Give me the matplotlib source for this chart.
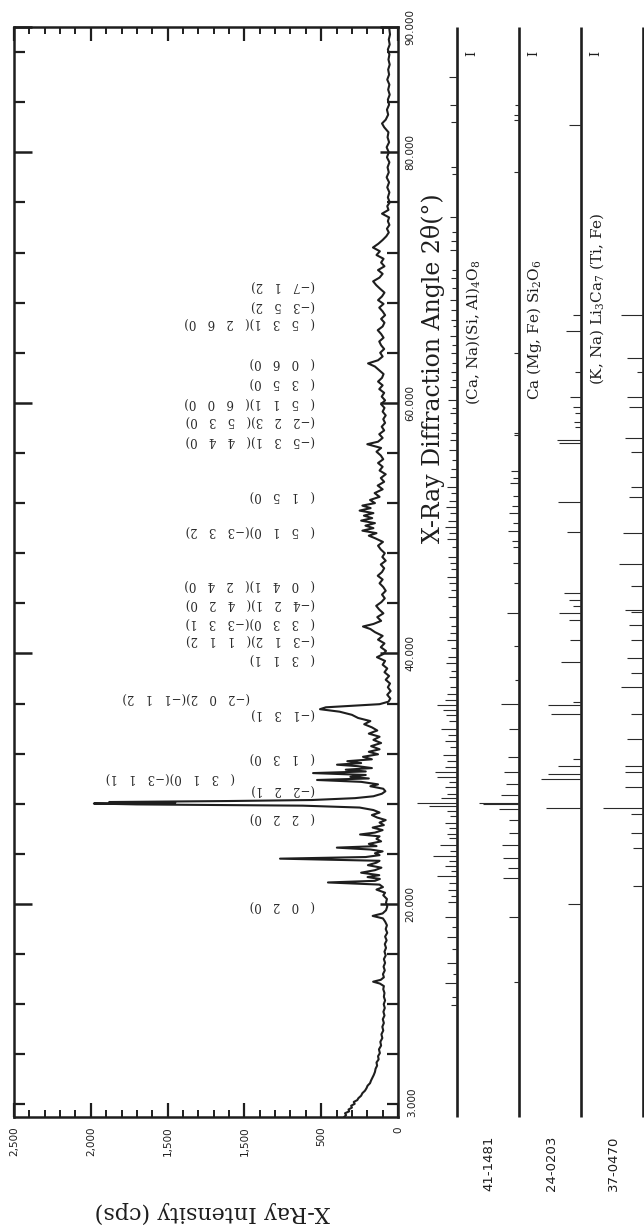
import matplotlib

matplotlib.use("Agg")

import matplotlib.pyplot as plt
from matplotlib.ticker import FixedLocator, MultipleLocator

W, H = 644, 1231

# measured scan, 2theta (deg) and counts (cps)
angle = [
    3.0, 3.15, 3.3, 3.45, 3.6, 3.75, 3.9, 4.05, 4.2, 4.35, 4.5, 4.7, 4.9, 5.1, 5.3, 5.5, 5.7, 5.9,
    6.1, 6.35, 6.6, 6.85, 7.1, 7.35, 7.6, 7.85, 8.1, 8.4, 8.7, 9.0, 9.3, 9.6, 9.9, 10.2, 10.5,
    10.8, 11.1, 11.4, 11.7, 12.0, 12.3, 12.6, 12.9, 13.2, 13.45, 13.65, 13.8, 13.95, 14.15, 14.4,
    14.7, 15.0, 15.3, 15.6, 15.9, 16.2, 16.5, 16.8, 17.1, 17.4, 17.7, 18.0, 18.3, 18.6, 18.85,
    19.05, 19.25, 19.5, 19.8, 20.1, 20.4, 20.7, 20.9, 21.15, 21.35, 21.55, 21.72, 21.85, 22.0,
    22.15, 22.3, 22.5, 22.7, 22.9, 23.1, 23.3, 23.45, 23.62, 23.75, 23.9, 24.05, 24.2, 24.35,
    24.5, 24.62, 24.8, 25.0, 25.2, 25.4, 25.55, 25.7, 25.9, 26.1, 26.3, 26.5, 26.7, 26.9, 27.1,
    27.3, 27.5, 27.7, 27.85, 27.95, 28.02, 28.08, 28.14, 28.22, 28.3, 28.45, 28.6, 28.8, 29.0,
    29.2, 29.4, 29.55, 29.75, 29.9, 30.02, 30.15, 30.3, 30.45, 30.58, 30.72, 30.85, 31.0, 31.12,
    31.25, 31.4, 31.55, 31.75, 31.95, 32.15, 32.35, 32.6, 32.85, 33.1, 33.35, 33.6, 33.85, 34.1,
    34.35, 34.6, 34.85, 35.1, 35.35, 35.55, 35.7, 35.82, 35.95, 36.15, 36.4, 36.7, 37.0, 37.3,
    37.6, 37.9, 38.2, 38.5, 38.8, 39.1, 39.4, 39.7, 39.95, 40.2, 40.5, 40.8, 41.1, 41.4, 41.7,
    41.95, 42.15, 42.35, 42.6, 42.9, 43.2, 43.5, 43.8, 44.1, 44.4, 44.7, 45.0, 45.3, 45.6, 45.9,
    46.2, 46.5, 46.8, 47.1, 47.4, 47.7, 48.0, 48.3, 48.6, 48.9, 49.2, 49.4, 49.6, 49.8, 50.0,
    50.2, 50.4, 50.6, 50.8, 51.0, 51.2, 51.4, 51.6, 51.8, 52.0, 52.25, 52.5, 52.8, 53.1, 53.4,
    53.7, 54.0, 54.3, 54.6, 54.9, 55.2, 55.5, 55.8, 56.1, 56.4, 56.7, 56.9, 57.2, 57.5, 57.8,
    58.1, 58.4, 58.7, 59.0, 59.3, 59.6, 59.9, 60.2, 60.5, 60.8, 61.1, 61.4, 61.7, 62.0, 62.3,
    62.6, 62.9, 63.15, 63.4, 63.7, 64.0, 64.3, 64.6, 64.9, 65.2, 65.5, 65.8, 66.1, 66.4, 66.7,
    67.0, 67.3, 67.6, 67.9, 68.2, 68.5, 68.8, 69.1, 69.4, 69.7, 70.0, 70.3, 70.6, 70.9, 71.2,
    71.5, 71.8, 72.1, 72.4, 72.7, 73.0, 73.3, 73.6, 73.9, 74.2, 74.5, 74.8, 75.1, 75.4, 75.7,
    76.0, 76.4, 76.8, 77.2, 77.6, 78.0, 78.4, 78.8, 79.2, 79.6, 80.0, 80.4, 80.8, 81.2, 81.6,
    82.0, 82.3, 82.6, 83.0, 83.4, 83.8, 84.2, 84.6, 85.0, 85.4, 85.8, 86.2, 86.6, 87.0, 87.4,
    87.8, 88.2, 88.6, 89.0, 89.4, 90.0,
]
counts = [
    350, 338, 345, 318, 322, 300, 305, 282, 288, 265, 258, 240, 232, 215, 205, 198, 182, 176,
    168, 158, 150, 146, 136, 140, 126, 130, 118, 124, 110, 115, 102, 108, 96, 102, 92,
    99, 88, 95, 86, 93, 84, 92, 88, 96, 92, 118, 162, 112, 92, 98,
    86, 94, 84, 92, 80, 88, 78, 86, 74, 84, 70, 80, 72, 84, 98,
    165, 100, 78, 70, 78, 72, 96, 84, 140, 98, 120, 456, 150, 118,
    198, 122, 240, 150, 108, 196, 140, 120, 768, 210, 120, 150, 100, 180,
    398, 140, 190, 110, 140, 120, 247, 150, 100, 165, 92, 120, 80, 135, 170,
    120, 160, 250, 620, 1700, 1980, 1450, 1880, 1100, 560, 280, 160, 105, 82,
    96, 180, 130, 240, 527, 190, 310, 210, 553, 210, 340, 170, 260, 397,
    240, 330, 170, 228, 130, 190, 120, 175, 110, 160, 120, 190, 135, 170,
    220, 180, 260, 300, 380, 508, 470, 300, 120, 62, 50, 70, 48, 66,
    52, 80, 58, 88, 70, 100, 84, 137, 96, 78, 112, 88, 130, 100, 150,
    180, 228, 160, 110, 135, 95, 122, 142, 108, 86, 104, 80, 96, 120, 100,
    132, 104, 90, 112, 80, 102, 86, 112, 130, 98, 150, 190, 140, 232, 160,
    212, 150, 240, 168, 222, 160, 250, 178, 232, 150, 182, 120, 152, 100, 132,
    90, 112, 80, 120, 100, 130, 96, 112, 140, 110, 200, 130, 100, 122, 90,
    106, 84, 96, 80, 100, 88, 110, 84, 106, 90, 122, 100, 130, 104, 94,
    122, 150, 195, 130, 100, 116, 90, 110, 122, 94, 110, 132, 100, 88, 110,
    84, 100, 122, 94, 130, 104, 88, 116, 142, 162, 120, 100, 130, 88, 110,
    94, 140, 118, 163, 128, 100, 76, 60, 72, 56, 66, 58, 104, 62, 70,
    54, 66, 56, 70, 58, 74, 60, 68, 56, 72, 60, 74, 58, 68, 62,
    90, 104, 80, 64, 72, 58, 66, 54, 64, 56, 70, 58, 64, 54, 62,
    56, 66, 54, 60, 52, 58,
]

count_ticks = [0, 500, 1000, 1500, 2000, 2500]
count_labels = ["0", "500", "1,500", "1,500", "2,000", "2,500"]
angle_ticks = [20, 40, 60, 80, 90]
angle_labels = ["20.000", "40.000", "60.000", "80.000", "90.000"]

# Miller index notes: row angle, text, right end (cps)
hkl_angle = [69.4, 67.8, 66.4, 63.2, 61.6, 60.0, 58.6, 57.0, 52.6, 49.8, 45.5, 44.0, 42.5,
             41.1, 39.6, 36.5, 35.2, 31.7, 30.1, 29.1, 26.9, 19.9]
hkl_text = [
    "(−7 1 2)", "(−3 5 2)", "( 5 3 1)( 2 6 0)", "( 0 6 0)", "( 3 5 0)", "( 5 1 1)( 6 0 0)",
    "(−2 2 3)( 5 3 0)", "(−5 3 1)( 4 4 0)", "( 1 5 0)", "( 5 1 0)(−3 3 2)",
    "( 0 4 1)( 2 4 0)", "(−4 2 1)( 4 2 0)", "( 3 3 0)(−3 3 1)", "(−3 1 2)( 1 1 2)",
    "( 3 1 1)", "(−2 0 2)(−1 1 2)", "(−1 3 1)", "( 1 3 0)", "( 3 1 0)(−3 1 1)", "(−2 2 1)",
    "( 2 2 0)", "( 0 2 0)",
]
hkl_right = [540, 540, 540, 540, 540, 540, 540, 540, 540, 540, 540, 540, 540, 540, 540,
             964, 540, 540, 1060, 540, 540, 540]

# reference cards
card_ids = ["41-1481", "24-0203", "37-0470"]
card_phases = [
    r"(Ca, Na)(Si, Al)$_4$O$_8$",
    r"Ca (Mg, Fe) Si$_2$O$_6$",
    r"(K, Na) Li$_3$Ca$_7$ (Ti, Fe)",
]
p1_angle = [86.0, 83.8, 82.4, 78.8, 78.3, 74.8, 73.6, 72.9, 72.2, 70.6, 70.0, 69.2, 68.2, 67.4,
            66.6, 66.1, 65.3, 64.6, 64.0, 63.2, 62.5, 61.8, 61.3, 60.2, 59.6, 59.2, 58.4, 57.6,
            57.0, 56.2, 55.4, 54.7, 54.1, 53.3, 52.8, 52.2, 51.7, 51.2, 50.6, 50.1, 49.6, 49.1,
            48.5, 47.7, 47.2, 46.7, 46.1, 45.6, 45.1, 44.5, 43.8, 42.9, 42.2, 41.6, 41.1, 40.4,
            39.7, 39.2, 38.6, 38.1, 37.3, 36.8, 36.3, 35.9, 35.5, 35.1, 34.6, 34.0, 33.5, 33.0,
            32.5, 31.9, 31.4, 30.9, 30.5, 30.1, 29.7, 29.3, 28.8, 28.5, 28.1, 27.8, 27.4, 27.0,
            26.5, 26.1, 25.6, 25.3, 24.7, 24.2, 23.8, 23.4, 23.0, 22.6, 22.2, 21.7, 21.1, 20.6,
            20.2, 19.0, 18.2, 17.4, 16.4, 15.3, 14.4, 13.7, 12.6, 11.9]
p1_rel = [20, 18, 15, 15, 12, 18, 12, 15, 18, 12, 15, 12, 18, 15,
          15, 10, 18, 12, 15, 12, 15, 12, 18, 22, 12, 18, 10, 15,
          18, 20, 12, 15, 18, 25, 15, 20, 28, 18, 22, 30, 20, 25,
          12, 22, 18, 15, 25, 20, 15, 22, 12, 20, 15, 18, 25, 15,
          22, 28, 15, 20, 18, 25, 30, 50, 35, 28, 20, 40, 22, 30,
          18, 35, 25, 30, 55, 50, 20, 30, 25, 40, 100, 70, 25, 18,
          30, 20, 25, 20, 42, 18, 60, 20, 30, 15, 50, 20, 22, 15,
          22, 30, 12, 25, 12, 25, 10, 30, 12, 15]
p2_angle = [83.8, 83.0, 82.6, 78.4, 64.0, 57.6, 57.4, 54.6, 54.0, 53.6, 52.6, 51.8, 51.2, 50.4,
            49.8, 49.0, 48.5, 47.2, 45.6, 43.2, 40.6, 37.9, 36.0, 34.0, 31.7, 30.5, 29.6, 28.7,
            28.1, 28.0, 27.6, 26.7, 25.7, 24.7, 23.7, 22.9, 22.1, 19.0, 13.8]
p2_rel = [10, 12, 12, 12, 12, 12, 12, 20, 15, 22, 15, 18, 25, 15,
          28, 18, 15, 15, 12, 30, 12, 10, 45, 25, 28, 38, 32, 45,
          100, 90, 50, 25, 25, 42, 40, 28, 40, 25, 12]
p3_angle = [82.2, 67.0, 65.7, 62.5, 60.5, 59.7, 59.2, 58.5, 58.1, 57.0, 56.8, 52.1, 49.7, 44.8,
            44.3, 43.8, 43.2, 42.7, 41.1, 39.3, 36.1, 35.9, 35.2, 31.6, 31.0, 30.4, 30.0, 27.7,
            20.0]
p3_rel = [30, 20, 38, 15, 28, 20, 15, 18, 15, 60, 55, 58, 35, 42,
          30, 20, 55, 30, 28, 50, 20, 82, 75, 20, 58, 82, 100, 88,
          33]
p4_angle = [67.0, 63.6, 62.5, 60.5, 59.7, 57.2, 56.1, 53.3, 52.5, 49.6, 47.1, 45.4, 43.5, 43.3,
            42.3, 41.1, 39.6, 38.4, 37.3, 35.2, 33.2, 31.0, 30.5, 29.3, 27.7, 27.2, 25.7, 24.5,
            21.4]
p4_rel = [55, 40, 15, 40, 35, 45, 30, 30, 35, 50, 60, 30, 45, 30,
          35, 30, 40, 30, 55, 30, 40, 45, 45, 45, 100, 30, 30, 25,
          25]


def fx(px):
    return px / W


def fy(py):
    return 1 - py / H


def spaced(text):
    return text.replace(" ", "   ")


plt.rcParams["mathtext.fontset"] = "dejavuserif"
fig = plt.figure(figsize=(W / 100, H / 100), dpi=100)
fig.patch.set_facecolor("white")
ink = "#1e1e1e"

# main scan, drawn sideways: counts run right->left, angle bottom->top
ax = fig.add_axes([fx(14), fy(1117), (398 - 14) / W, (1117 - 27) / H])
ax.plot(counts, angle, color=ink, lw=1.5)
ax.set_xlim(2500, 0)
ax.set_ylim(3, 90)
for spine in ax.spines.values():
    spine.set_linewidth(1.8)
    spine.set_color(ink)

ax.xaxis.set_major_locator(FixedLocator(count_ticks))
ax.set_xticklabels(count_labels)
ax.xaxis.set_minor_locator(MultipleLocator(100))
ax.tick_params(axis="x", which="major", direction="in", top=True, bottom=True,
               length=10, width=1.6, labelrotation=90, labelsize=7.5, pad=7,
               colors=ink)
ax.tick_params(axis="x", which="minor", direction="in", top=True, bottom=True,
               length=5, width=1.4, colors=ink)

ax.yaxis.set_major_locator(FixedLocator(angle_ticks))
ax.set_yticklabels(angle_labels)
ax.yaxis.set_minor_locator(MultipleLocator(4))
ax.tick_params(axis="y", which="major", direction="in", left=True, right=True,
               labelleft=False, labelright=True, length=13, width=1.8,
               labelrotation=90, labelsize=7.5, pad=5, colors=ink)
ax.tick_params(axis="y", which="minor", direction="in", left=True, right=True,
               length=8, width=1.6, colors=ink)
for lab in ax.get_yticklabels():
    lab.set_verticalalignment("center")
ax.text(1.025, 3.0, "3.000", transform=ax.get_yaxis_transform(), rotation=90,
        fontsize=7.5, ha="left", va="bottom", color=ink)

for a, t, c in zip(hkl_angle, hkl_text, hkl_right):
    ax.text(c, a, spaced(t), rotation=180, ha="right", va="center",
            fontsize=8.5, family="DejaVu Serif", color="#2a2a2a")

fig.text(fx(433), fy(368), "X-Ray Diffraction Angle 2θ(°)", rotation=90,
         ha="center", va="center", fontsize=17, family="DejaVu Serif", color=ink)
fig.text(fx(212), fy(1212), "X-Ray Intensity (cps)", rotation=180,
         ha="center", va="center", fontsize=16, family="DejaVu Serif", color=ink)

# reference stick patterns on the right
ax2 = fig.add_axes([fx(400), fy(1117), (W - 400) / W, (1117 - 27) / H])
ax2.set_xlim(400, W)
ax2.set_ylim(3, 90)
ax2.axis("off")

card_base = [457, 519, 581, 643]
stick_len = 40
patterns = [(p1_angle, p1_rel), (p2_angle, p2_rel), (p3_angle, p3_rel), (p4_angle, p4_rel)]
for base, (ang, rel) in zip(card_base, patterns):
    ax2.vlines(base, 3, 90, color=ink, lw=1.9, clip_on=False)
    ax2.hlines(ang, [base - r / 100 * stick_len for r in rel], base,
               color="#2a2a2a", lw=0.8, clip_on=False)

for base in card_base[:3]:
    ax2.text(base + 15, 87.9, "I", rotation=90, ha="center", va="center",
             fontsize=9, family="DejaVu Serif", color=ink)

for base, cid in zip(card_base, card_ids):
    fig.text(fx(base + 32), fy(1163), cid, rotation=90, ha="center", va="center",
             fontsize=9.5, color=ink)

phase_y = [405, 400, 385]
for base, name, py in zip(card_base, card_phases, phase_y):
    fig.text(fx(base + 16), fy(py), name, rotation=90, ha="center", va="bottom",
             fontsize=11, family="DejaVu Serif", color=ink)

fig.savefig("out.png", dpi=100, facecolor="white")
